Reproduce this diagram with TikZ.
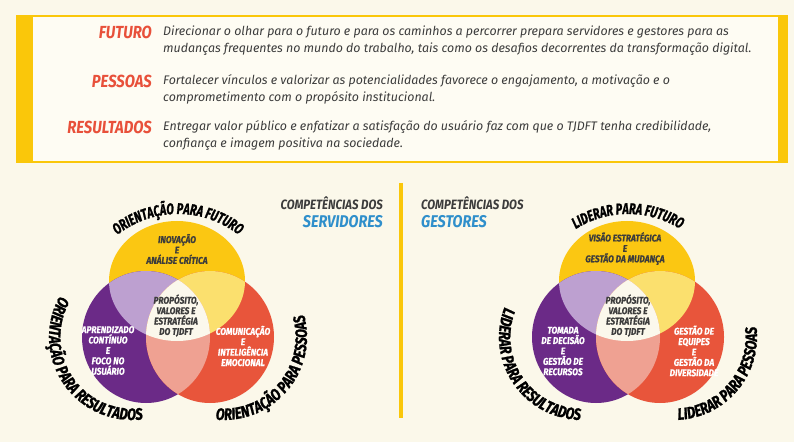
\documentclass[tikz,border=0pt]{standalone}
\usepackage{fontspec}
\setmainfont{Fira Sans}
\newfontfamily\bodyfont{Fira Sans}
\newfontfamily\headfont[FakeStretch=0.85]{Fira Sans}
\newfontfamily\arcfont[FakeStretch=0.7, FakeBold=1.2]{Fira Sans}
\newfontfamily\arcfontwide[FakeStretch=0.78, FakeBold=1.2]{Fira Sans}
\newfontfamily\innerfont[FakeStretch=0.85, FakeBold=0.6]{Fira Sans}
\usepackage{tikz}
\usetikzlibrary{decorations.text}

\definecolor{cream}{HTML}{FBF8EA}
\definecolor{boxfill}{HTML}{FEFCF3}
\definecolor{yelbar}{HTML}{FAC70A}
\definecolor{ycol}{HTML}{FBC712}
\definecolor{pcol}{HTML}{6B2A87}
\definecolor{rcol}{HTML}{E8553B}
\definecolor{lav}{HTML}{BDA0D0}
\definecolor{lyel}{HTML}{FBE06E}
\definecolor{pinkc}{HTML}{EFA192}
\definecolor{wcent}{HTML}{FBF8EC}
\definecolor{bluec}{HTML}{2F8FCB}
\definecolor{txtgray}{HTML}{3C3C3C}
\definecolor{labred}{HTML}{E8503A}

\newcommand\arcstyle{\arcfont\bfseries\itshape\fontsize{15.5}{15.5}\selectfont}
\newcommand\sidestyle{\arcfontwide\bfseries\itshape\fontsize{16.5}{16.5}\selectfont}

\begin{document}
\begin{tikzpicture}[x=1pt, y=1pt,
    every node/.style={inner sep=0pt},
    boxlabel/.style={text=labred, anchor=base east, font=\headfont\bfseries\itshape\fontsize{17.5}{17.5}\selectfont},
    boxtext/.style={text=txtgray, anchor=base west, align=left, font=\bodyfont\itshape\fontsize{12.4}{17}\selectfont},
    incircle/.style={align=center, font=\innerfont\bfseries\itshape\fontsize{9.8}{10.4}\selectfont},
    headline/.style={text=txtgray, font=\headfont\bfseries\itshape\fontsize{13.5}{13.5}\selectfont},
    headword/.style={text=bluec, font=\headfont\bfseries\itshape\fontsize{17}{17}\selectfont},
    toplabel/.style={decorate, decoration={text along path, text align=center, text={|\arcstyle|#1}}},
    sidelabel/.style={decorate, decoration={text along path, text align=center, text={|\sidestyle|#1}}}]

    \useasboundingbox (0,0) rectangle (794,442);
    \fill[cream] (0,0) rectangle (794,442);% page background

    % top box with the three themes
    \fill[boxfill] (16,279) rectangle (788,427);
    \draw[yelbar, line width=1.8] (16,280) -- (788,280) (16,426) -- (788,426);
    \fill[yelbar] (16,279) rectangle (33,427);% left bar
    \fill[yelbar] (778,279) rectangle (788,427);% right bar

    % base of a two line node is its last line
    \node[boxlabel] (futuro) at (152,403.5) {FUTURO};
    \node[boxtext] (futuroTxt) at (163,389) {Direcionar o olhar para o futuro e para os caminhos a percorrer prepara servidores e gestores para as\\
      mudanças frequentes no mundo do trabalho, tais como os desafios decorrentes da transformação digital.};
    \node[boxlabel] (pessoas) at (152,354.5) {PESSOAS};
    \node[boxtext] (pessoasTxt) at (163,340) {Fortalecer vínculos e valorizar as potencialidades favorece o engajamento, a motivação e o\\
      comprometimento com o propósito institucional.};
    \node[boxlabel] (resultados) at (152,308.5) {RESULTADOS};
    \node[boxtext] (resultadosTxt) at (163,294) {Entregar valor público e enfatizar a satisfação do usuário faz com que o TJDFT tenha credibilidade,\\
      confiança e imagem positiva na sociedade.};

    % divider between the two diagrams
    \coordinate (divTop) at (401,259);
    \coordinate (divBot) at (401,24);
    \draw[yelbar, line width=3.5] (divTop) -- (divBot);

    % the two Venn diagrams
    \foreach \cx [count=\i] in {178,628}{%
      \coordinate (yc\i) at (\cx-1,161);
      \coordinate (pc\i) at (\cx-32,105);
      \coordinate (rc\i) at (\cx+32,105);
      \fill[ycol] (yc\i) ellipse[x radius=68, y radius=60];
      \fill[pcol] (pc\i) ellipse[x radius=64, y radius=66];
      \fill[rcol] (rc\i) ellipse[x radius=64, y radius=66];
      \begin{scope}% overlaps with the yellow circle
        \clip (yc\i) ellipse[x radius=68, y radius=60];
        \fill[lav] (pc\i) ellipse[x radius=64, y radius=66];
        \fill[lyel] (rc\i) ellipse[x radius=64, y radius=66];
      \end{scope}
      \begin{scope}% purple and red, then the middle
        \clip (pc\i) ellipse[x radius=64, y radius=66];
        \fill[pinkc] (rc\i) ellipse[x radius=64, y radius=66];
        \clip (yc\i) ellipse[x radius=68, y radius=60];
        \fill[wcent] (rc\i) ellipse[x radius=64, y radius=66];
      \end{scope}
    }

    % servidores
    \node[headline, anchor=east] (compS) at (383,239) {COMPETÊNCIAS DOS};
    \node[headword, anchor=east] (servidores) at (383,220) {SERVIDORES};
    \node[incircle, text=txtgray] (inovacao) at (177,193) {INOVAÇÃO\\E\\ANÁLISE CRÍTICA};
    \node[incircle, text=txtgray] (propositoS) at (176,126.5) {PROPÓSITO,\\VALORES E\\ESTRATÉGIA\\DO TJDFT};
    \node[incircle, text=white] (aprendizado) at (108,91.5) {APRENDIZADO\\CONTÍNUO\\E\\FOCO NO\\USUÁRIO};
    \node[incircle, text=white] (comunicacao) at (243,96) {COMUNICAÇÃO\\E\\INTELIGÊNCIA\\EMOCIONAL};
    \path[toplabel={ORIENTAÇÃO PARA FUTURO}] (178,130) ++(170:98) arc[start angle=170, end angle=10, radius=98];
    \path[sidelabel={ORIENTAÇÃO PARA RESULTADOS}] (132,105) ++(124:83) arc[start angle=124, end angle=304, radius=83];
    \path[sidelabel={ORIENTAÇÃO PARA PESSOAS}] (224,105) ++(230:83) arc[start angle=230, end angle=410, radius=83];

    % gestores
    \node[headline, anchor=west] (compG) at (421,239) {COMPETÊNCIAS DOS};
    \node[headword, anchor=west] (gestores) at (421,220) {GESTORES};
    \node[incircle, text=txtgray] (visao) at (625,193.5) {VISÃO ESTRATÉGICA\\E\\GESTÃO DA MUDANÇA};
    \node[incircle, text=txtgray] (propositoG) at (628,126.5) {PROPÓSITO,\\VALORES E\\ESTRATÉGIA\\DO TJDFT};
    \node[incircle, text=white] (tomada) at (563,91) {TOMADA\\DE DECISÃO\\E\\GESTÃO DE\\RECURSOS};
    \node[incircle, text=white] (equipes) at (694,91) {GESTÃO DE\\EQUIPES\\E\\GESTÃO DA\\DIVERSIDADE};
    \path[toplabel={LIDERAR PARA FUTURO}] (628,130) ++(170:98) arc[start angle=170, end angle=10, radius=98];
    \path[sidelabel={LIDERAR PARA RESULTADOS}] (582,105) ++(124:83) arc[start angle=124, end angle=304, radius=83];
    \path[sidelabel={LIDERAR PARA PESSOAS}] (674,105) ++(230:83) arc[start angle=230, end angle=410, radius=83];
\end{tikzpicture}
\end{document}
